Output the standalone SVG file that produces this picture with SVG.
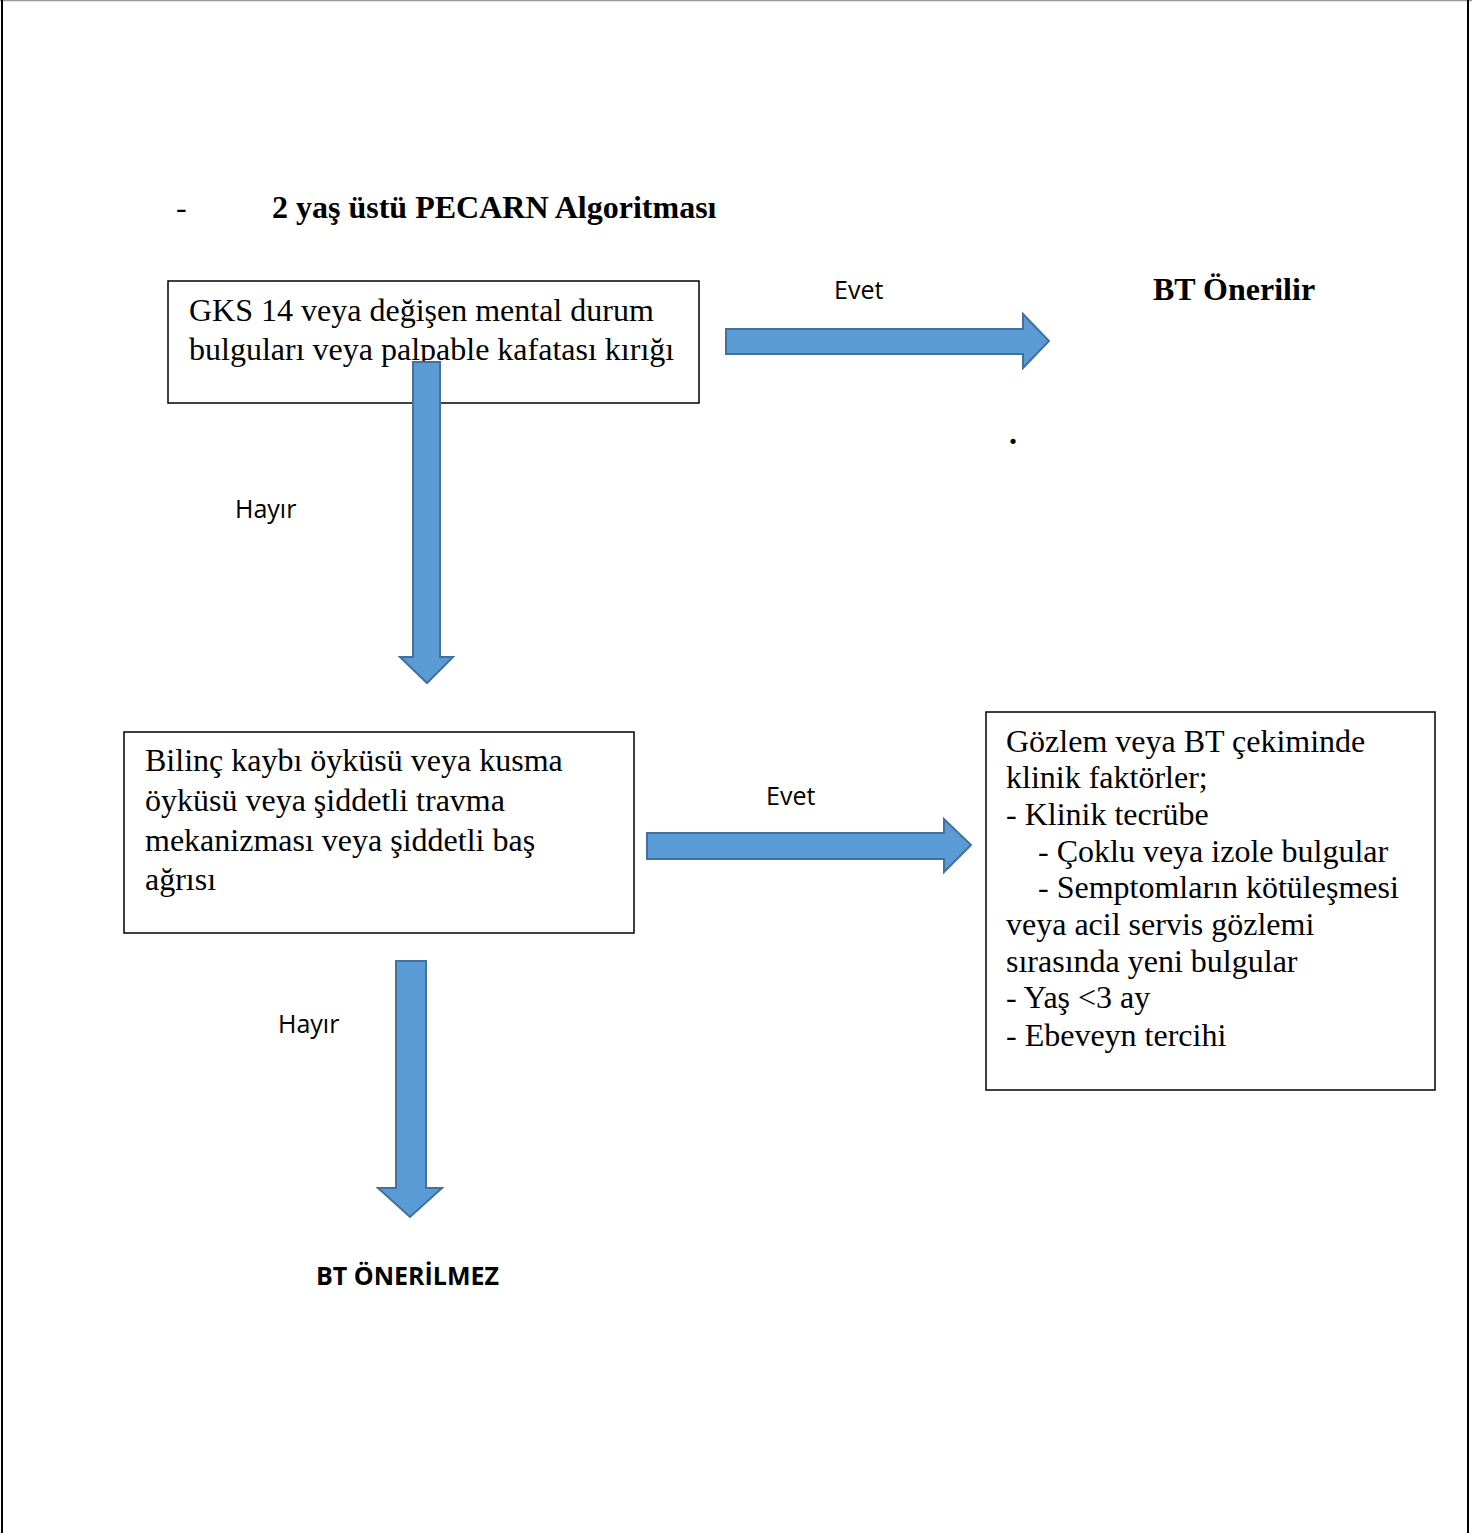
<svg xmlns="http://www.w3.org/2000/svg" width="1472" height="1533" viewBox="0 0 1472 1533">
<defs>
<style>
.box{fill:#fff;stroke:#000;stroke-width:1.5}
.arr{fill:#5B9BD5;stroke:#41719C;stroke-width:2}
.t{font-family:"Liberation Serif","Times New Roman",serif;font-size:32px;fill:#000}
.b{font-family:"Liberation Serif","Times New Roman",serif;font-size:32px;font-weight:bold;fill:#000}
.s{font-family:"Open Sans","Liberation Sans",sans-serif;font-size:25px;fill:#000}
.sb{font-family:"Open Sans","Liberation Sans",sans-serif;font-size:25px;font-weight:bold;fill:#000}
</style>
</defs>
<rect width="1472" height="1533" fill="#fff"/>
<g id="frame" fill="none">
<line x1="0" y1="0.5" x2="1472" y2="0.5" stroke="#999" stroke-width="1.5"/>
<line x1="2" y1="0" x2="2" y2="1533" stroke="#000" stroke-width="2"/>
<line x1="1468" y1="0" x2="1468" y2="1533" stroke="#000" stroke-width="2"/>
</g>
<g id="title">
<text class="t" x="176" y="218">-</text>
<text class="b" x="272" y="218">2 yaş üstü PECARN Algoritması</text>
</g>
<g id="node-gks">
<rect class="box" x="168" y="281" width="531" height="122"/>
<text class="t" x="189" y="321">GKS 14 veya değişen mental durum</text>
<text class="t" x="189" y="360">bulguları veya palpable kafatası kırığı</text>
</g>
<g id="node-bt-onerilir">
<text class="b" x="1153" y="300">BT Önerilir</text>
<text class="b" x="1009" y="444">.</text>
</g>
<g id="node-bilinc">
<rect class="box" x="124" y="732" width="510" height="201"/>
<text class="t" x="145" y="771">Bilinç kaybı öyküsü veya kusma</text>
<text class="t" x="145" y="811">öyküsü veya şiddetli travma</text>
<text class="t" x="145" y="851">mekanizması veya şiddetli baş</text>
<text class="t" x="145" y="890">ağrısı</text>
</g>
<g id="node-gozlem">
<rect class="box" x="986" y="712" width="449" height="378"/>
<text class="t" x="1006" y="752">Gözlem veya BT çekiminde</text>
<text class="t" x="1006" y="788">klinik faktörler;</text>
<text class="t" x="1006" y="825">- Klinik tecrübe</text>
<text class="t" x="1038" y="862">- Çoklu veya izole bulgular</text>
<text class="t" x="1038" y="898">- Semptomların kötüleşmesi</text>
<text class="t" x="1006" y="935">veya acil servis gözlemi</text>
<text class="t" x="1006" y="972">sırasında yeni bulgular</text>
<text class="t" x="1006" y="1008">- Yaş &lt;3 ay</text>
<text class="t" x="1006" y="1046">- Ebeveyn tercihi</text>
</g>
<g id="node-bt-onerilmez">
<text class="sb" x="316" y="1285">BT ÖNERİLMEZ</text>
</g>
<g id="connectors">
<polygon class="arr" points="726,329 1023,329 1023,314 1049,341 1023,368 1023,354 726,354"/>
<text class="s" x="834" y="299">Evet</text>
<polygon class="arr" points="413,362 440,362 440,657 453,657 427,683 400,657 413,657"/>
<text class="s" x="235" y="518">Hayır</text>
<polygon class="arr" points="647,833 944,833 944,819 971,845 944,872 944,859 647,859"/>
<text class="s" x="766" y="805">Evet</text>
<polygon class="arr" points="396,961 426,961 426,1188 442,1188 410,1217 378,1188 396,1188"/>
<text class="s" x="278" y="1033">Hayır</text>
</g>
</svg>
